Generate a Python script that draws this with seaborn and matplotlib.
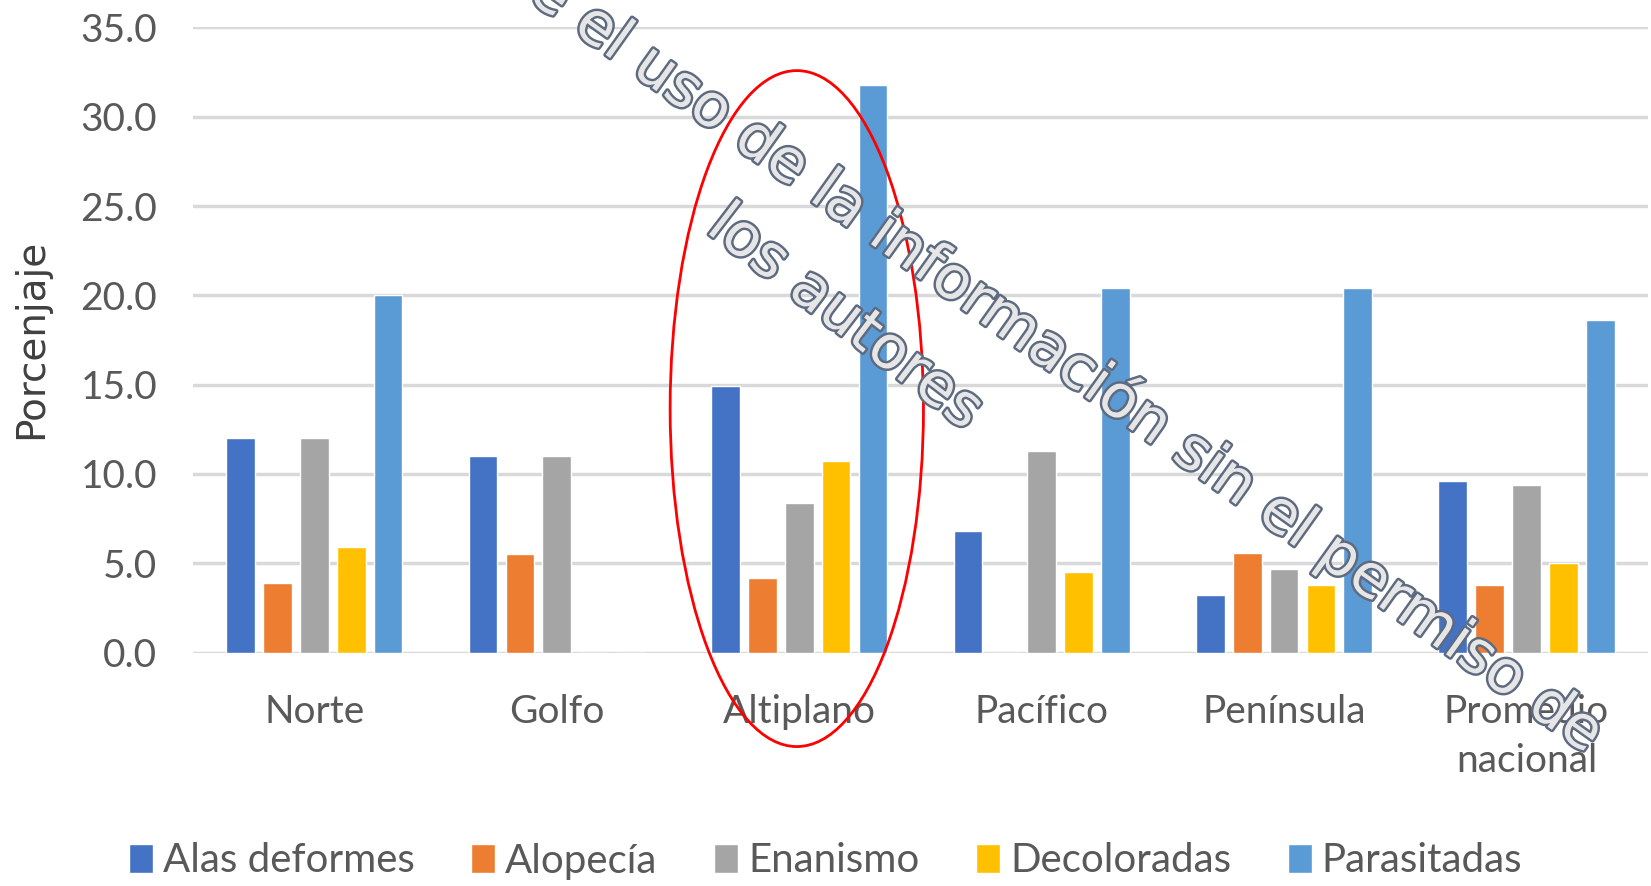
import pandas as pd
import matplotlib.pyplot as plt
import matplotlib.patheffects as pe
from matplotlib.patches import Ellipse
import seaborn as sns

# Data (percent)
regiones = ['Norte', 'Golfo', 'Altiplano', 'Pacífico', 'Península', 'Promedio\nnacional']
tipos = ['Alas deformes', 'Alopecía', 'Enanismo', 'Decoloradas', 'Parasitadas']
alas_deformes = [12.0, 11.0, 14.9, 6.8, 3.2, 9.6]
alopecia = [3.9, 5.5, 4.2, 0.0, 5.6, 3.8]
enanismo = [12.0, 11.0, 8.4, 11.3, 4.7, 9.4]
decoloradas = [5.9, 0.0, 10.7, 4.5, 3.8, 5.0]
parasitadas = [20.0, 0.0, 31.8, 20.4, 20.4, 18.6]
yticks = [0, 5, 10, 15, 20, 25, 30, 35]

colores = ['#4472C4', '#ED7D31', '#A5A5A5', '#FFC000', '#5B9BD5']

# long format for seaborn
series = [alas_deformes, alopecia, enanismo, decoloradas, parasitadas]
rows = []
for tipo, vals in zip(tipos, series):
    for reg, v in zip(regiones, vals):
        rows.append({'Región': reg, 'Tipo': tipo, 'Porcentaje': v})
df = pd.DataFrame(rows)

sns.set_style('white')
plt.rcParams['font.family'] = ['Lato', 'DejaVu Sans']

fig = plt.figure(figsize=(16.51, 8.86), dpi=100)
ax = fig.add_axes([0.117, 0.2635, 0.881, 0.7055])

sns.barplot(data=df, x='Región', y='Porcentaje', hue='Tipo', palette=colores,
            width=0.76, gap=0.22, saturation=1, ax=ax, zorder=3)

ax.set_ylim(0, 35)
ax.set_xlim(-0.5, len(regiones) - 0.5)
ax.set_yticks(yticks)
ax.set_yticklabels([f'{t:.1f}' for t in yticks])
ax.yaxis.grid(True, color='#d9d9d9', linewidth=2.5, zorder=0)
ax.set_axisbelow(True)
for s in ['top', 'right', 'left', 'bottom']:
    ax.spines[s].set_visible(False)
ax.tick_params(axis='y', length=0, pad=26, labelsize=28, labelcolor='#595959')
ax.tick_params(axis='x', length=0, pad=30, labelsize=28, labelcolor='#595959')
for lbl in ax.get_xticklabels():
    lbl.set_linespacing(1.45)
ax.set_xlabel('')
ax.set_ylabel('')

fig.text(0.019, 1 - 339 / 886, 'Porcenjaje', rotation=90, ha='center', va='center',
         fontsize=28, color='#404040', family='DejaVu Sans')

# legend at the bottom
handles, labels = ax.get_legend_handles_labels()
ax.legend_.remove()
fig.legend(handles, labels, loc='center', bbox_to_anchor=(0.5, 1 - 861 / 886), ncol=5,
           frameon=False, fontsize=29, labelcolor='#595959', handlelength=0.6,
           handleheight=0.7, handletextpad=0.25, columnspacing=1.4)

# red ellipse around Altiplano
ax.add_patch(Ellipse((1.99, 13.66), 1.045, 37.85, fill=False, edgecolor='red',
                     linewidth=2, clip_on=False, zorder=5))

# watermark
wm = [pe.Stroke(linewidth=3.5, foreground='#5d6a80'), pe.Normal()]
fig.text(0.967, 0.165, 'Se prohíbe el uso de la información sin el permiso de',
         rotation=-35.5, rotation_mode='anchor', ha='right', va='center',
         fontsize=43, color='#e6e6e6', family='DejaVu Sans', path_effects=wm, zorder=10)
fig.text(845 / 1651, 1 - 318 / 886, 'los autores',
         rotation=-37.5, rotation_mode='anchor', ha='center', va='center',
         fontsize=43, color='#e6e6e6', family='DejaVu Sans', path_effects=wm, zorder=10)

fig.savefig('out.png', dpi=100)
